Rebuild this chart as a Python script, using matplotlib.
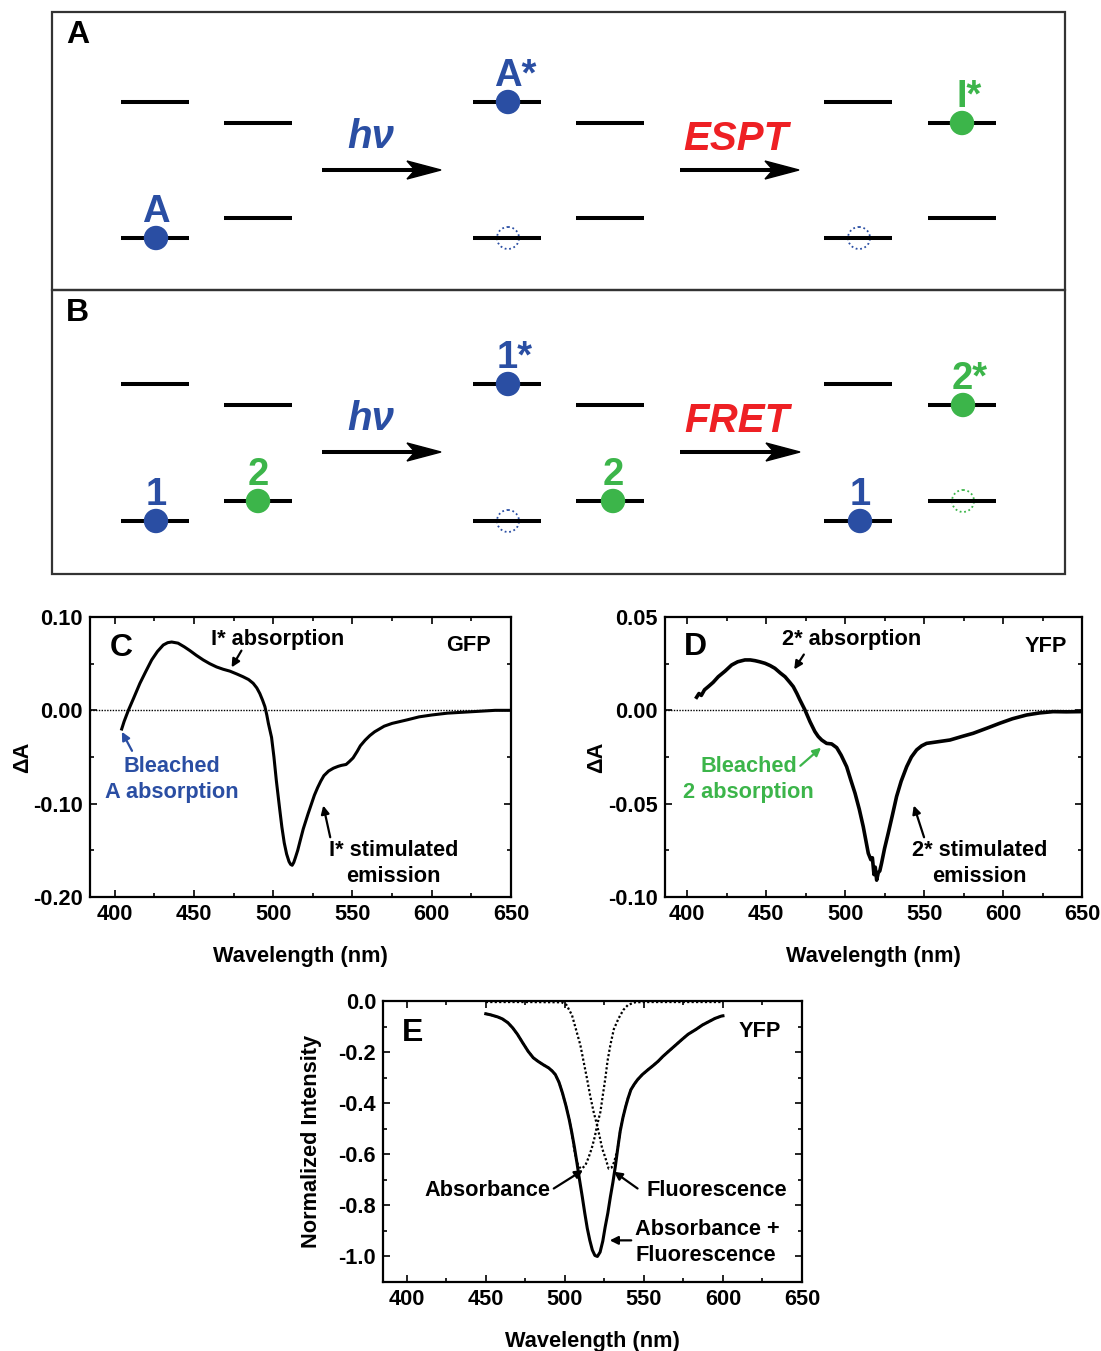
import matplotlib
matplotlib.use("Agg")
import matplotlib.pyplot as plt
from matplotlib.patches import Circle, Polygon, Rectangle
from matplotlib.ticker import MultipleLocator, FormatStrFormatter

plt.rcParams["font.family"] = ["Liberation Sans", "DejaVu Sans"]
plt.rcParams["font.weight"] = "bold"
plt.rcParams["axes.unicode_minus"] = False

BLUE = "#2a4ea3"
GREEN = "#3cb54a"
RED = "#ee2024"
FS = 15.7

# ---- panel C: GFP transient absorption ----
gfp_nm = [404.5, 406, 408.7, 412, 416, 419.5, 423.4, 427, 430.7, 433.5, 436, 440, 444,
          447.5, 451.5, 455.9, 460, 464.3, 468.5, 472.7, 477, 481, 484.5, 487.4, 489.7,
          491.6, 493.3, 494.8, 496, 497, 499, 500.5, 502, 504, 505.5, 507, 508.5, 510,
          511, 512, 513, 514, 515.5, 517, 519, 520.5, 522, 524, 526, 528, 530, 532, 535,
          538, 541, 543, 546, 548, 550.4, 553, 555, 558, 561, 564, 567, 570, 575, 580,
          585, 592, 600, 610, 620, 630, 640, 650]
gfp_dA = [-0.020, -0.012, 0.000, 0.013, 0.029, 0.041, 0.054, 0.063, 0.070, 0.0725, 0.0732,
          0.072, 0.068, 0.064, 0.059, 0.054, 0.050, 0.0465, 0.044, 0.042, 0.039, 0.036,
          0.033, 0.029, 0.024, 0.018, 0.011, 0.004, -0.005, -0.014, -0.029, -0.050, -0.075,
          -0.104, -0.125, -0.142, -0.154, -0.162, -0.165, -0.166, -0.163, -0.158, -0.150,
          -0.140, -0.127, -0.119, -0.111, -0.101, -0.091, -0.083, -0.076, -0.070, -0.065,
          -0.062, -0.060, -0.059, -0.058, -0.055, -0.051, -0.044, -0.038, -0.032, -0.027,
          -0.023, -0.020, -0.017, -0.014, -0.012, -0.010, -0.007, -0.005, -0.003, -0.002,
          -0.001, 0.000, 0.000]

# ---- panel D: YFP transient absorption ----
yfp_nm = [406, 407.5, 409, 411, 413.4, 416.5, 419.7, 424, 428.2, 432, 436.6, 440, 443, 446,
          449.3, 452.5, 455.6, 459, 462, 465, 467.2, 469.5, 471.4, 474.6, 477.8, 480.9,
          483, 485.2, 488.3, 491.5, 494.7, 497.5, 501, 503.5, 506.3, 509, 511.5, 513,
          514.7, 516.3, 517.3, 518.3, 519.1, 520, 521, 522, 523.1, 525, 527.3, 530, 532.6,
          535.5, 539, 542, 545.3, 548.5, 551.6, 559, 566.4, 574, 581.1, 590, 598, 606,
          614.9, 623, 631.7, 640, 648.6, 650]
yfp_dA = [0.007, 0.009, 0.008, 0.011, 0.0127, 0.015, 0.018, 0.021, 0.0243, 0.026, 0.027,
          0.027, 0.0266, 0.026, 0.0252, 0.024, 0.0225, 0.020, 0.018, 0.015, 0.0127, 0.009,
          0.0056, 0.0002, -0.0061, -0.0114, -0.014, -0.0159, -0.0177, -0.0180, -0.0200,
          -0.024, -0.0302, -0.037, -0.0444, -0.053, -0.0623, -0.069, -0.0766, -0.080,
          -0.079, -0.088, -0.084, -0.091, -0.087, -0.086, -0.0819, -0.074, -0.0659, -0.056,
          -0.0462, -0.038, -0.0302, -0.025, -0.0212, -0.019, -0.0177, -0.0168, -0.0159,
          -0.014, -0.0123, -0.0095, -0.0069, -0.0045, -0.0025, -0.0014, -0.0007, -0.0008,
          -0.0007, -0.0006]

# ---- panel E: YFP normalized absorbance / fluorescence ----
sum_nm = [450, 453, 457.4, 460.5, 464, 467, 470, 473.5, 476.8, 480, 483, 486.5, 489.8, 492,
          494, 496.3, 498.5, 500.7, 502.8, 504.4, 506, 507.7, 509.3, 511, 512.6, 514.2,
          515.8, 517.4, 519, 520.6, 522.3, 524, 525.5, 527.2, 528.8, 530.4, 532, 533.5,
          535, 536.8, 538.5, 540, 541.8, 544, 546, 549, 552.6, 556, 559, 562, 565.6, 570,
          574, 578, 583, 587, 591.6, 595, 599, 600]
sum_val = [-0.050, -0.054, -0.062, -0.070, -0.085, -0.105, -0.130, -0.165, -0.197, -0.222,
           -0.236, -0.250, -0.262, -0.274, -0.288, -0.318, -0.360, -0.410, -0.465, -0.515,
           -0.570, -0.635, -0.700, -0.765, -0.830, -0.890, -0.937, -0.975, -0.996, -1.000,
           -0.983, -0.940, -0.885, -0.830, -0.767, -0.710, -0.645, -0.575, -0.510, -0.455,
           -0.413, -0.380, -0.347, -0.325, -0.308, -0.288, -0.269, -0.252, -0.236, -0.217,
           -0.197, -0.173, -0.151, -0.130, -0.111, -0.094, -0.079, -0.068, -0.059, -0.058]

abs_nm = [450, 453, 457.4, 460.5, 464, 467, 470, 473.5, 476.8, 480, 483, 486.5, 489.8, 492,
          494, 496.3, 498.5, 500.7, 502.8, 504.4, 505.8, 507.3, 509, 510.8, 513, 515, 517,
          519, 520.4, 522.5, 524, 525.6, 527, 528.8, 531, 534, 537, 540, 544.5, 550, 575, 600]
abs_val = [-0.050, -0.054, -0.062, -0.070, -0.085, -0.105, -0.130, -0.165, -0.197, -0.222,
           -0.236, -0.250, -0.262, -0.274, -0.288, -0.318, -0.360, -0.410, -0.465, -0.515,
           -0.575, -0.625, -0.650, -0.656, -0.643, -0.613, -0.577, -0.530, -0.486, -0.434,
           -0.370, -0.303, -0.235, -0.172, -0.110, -0.068, -0.035, -0.015, -0.005, -0.004,
           -0.004, -0.004]

fl_nm = [450, 475, 498, 501, 504.5, 507, 509.8, 511.8, 514, 516, 518.2, 520.4, 522, 523.6,
         525.6, 527.7, 529.6, 531.2, 532.5, 533.5, 535, 536.8, 538.5, 540, 541.8, 544, 546,
         549, 552.6, 556, 559, 562, 565.6, 570, 574, 578, 583, 587, 591.6, 595, 599, 600]
fl_val = [-0.004, -0.004, -0.005, -0.015, -0.055, -0.110, -0.172, -0.235, -0.303, -0.370,
          -0.434, -0.486, -0.530, -0.577, -0.613, -0.656, -0.652, -0.630, -0.600, -0.575,
          -0.510, -0.455, -0.413, -0.380, -0.347, -0.325, -0.308, -0.288, -0.269, -0.252,
          -0.236, -0.217, -0.197, -0.173, -0.151, -0.130, -0.111, -0.094, -0.079, -0.068,
          -0.059, -0.058]

# ---- energy level diagrams (pixel layout) ----
level_x = [155, 258, 507, 610, 858, 962]
levels_A = [(102, 238), (123, 218), (102, 238), (123, 218), (102, 238), (123, 218)]
levels_B = [(384, 521), (405, 501), (384, 521), (405, 501), (384, 521), (405, 501)]

fig = plt.figure(figsize=(11.01, 13.51), dpi=100)

dax = fig.add_axes([0, 0, 1, 1])
dax.set_xlim(0, 1101)
dax.set_ylim(1351, 0)
dax.axis("off")

dax.add_patch(Rectangle((52, 12), 1013, 278, fill=False, lw=1.6, ec="#333333"))
dax.add_patch(Rectangle((52, 290), 1013, 284, fill=False, lw=1.6, ec="#333333"))

for levels in (levels_A, levels_B):
    for cx, (yu, yl) in zip(level_x, levels):
        for yy in (yu, yl):
            dax.plot([cx - 34, cx + 34], [yy, yy], color="k", lw=2.9,
                     solid_capstyle="butt")


def dot(x, y, color, empty=False):
    if empty:
        dax.add_patch(Circle((x, y), 11, fill=False, ec=color, lw=1.3, ls=(0, (1, 1.5))))
    else:
        dax.add_patch(Circle((x, y), 11.5, color=color, zorder=3))


def label(x, y, s, color, star=False):
    dax.text(x + (7 if star else 0), y - 16, s, color=color, fontsize=27.5,
             fontweight="bold", ha="center", va="baseline")


def big_arrow(x0, x1, y):
    dax.plot([x0, x1 - 24], [y, y], color="k", lw=2.9, solid_capstyle="butt")
    dax.add_patch(Polygon([(x1, y), (x1 - 34, y - 9), (x1 - 26, y), (x1 - 34, y + 9)],
                          closed=True, color="k"))


def process(x, y, s, color):
    dax.text(x, y, s, color=color, fontsize=29, fontweight="bold",
             style="italic", ha="center", va="baseline")


# panel A
dax.text(66, 35, "A", fontsize=23, fontweight="bold", va="center", ha="left")
dot(156, 238, BLUE); label(156, 238, "A", BLUE)
dot(508, 102, BLUE); label(508, 102, "A*", BLUE, star=True)
dot(508, 238, BLUE, empty=True)
dot(859, 238, BLUE, empty=True)
dot(962, 123, GREEN); label(962, 123, "I*", GREEN, star=True)
big_arrow(322, 441, 170)
big_arrow(680, 799, 170)
process(371, 148, "h\u03bd", BLUE)
process(736, 150, "ESPT", RED)

# panel B
dax.text(66, 313, "B", fontsize=23, fontweight="bold", va="center", ha="left")
dot(156, 521, BLUE); label(156, 521, "1", BLUE)
dot(258, 501, GREEN); label(258, 501, "2", GREEN)
dot(508, 384, BLUE); label(508, 384, "1*", BLUE, star=True)
dot(508, 521, BLUE, empty=True)
dot(613, 501, GREEN); label(613, 501, "2", GREEN)
dot(860, 521, BLUE); label(860, 521, "1", BLUE)
dot(963, 405, GREEN); label(963, 405, "2*", GREEN, star=True)
dot(963, 501, GREEN, empty=True)
big_arrow(322, 441, 452)
big_arrow(680, 800, 452)
process(371, 430, "h\u03bd", BLUE)
process(737, 432, "FRET", RED)


def style_axes(ax, xlim, ylim, ymaj, ymin, yfmt, ylabel, ypad):
    ax.set_xlim(*xlim)
    ax.set_ylim(*ylim)
    ax.xaxis.set_major_locator(MultipleLocator(50))
    ax.xaxis.set_minor_locator(MultipleLocator(25))
    ax.yaxis.set_major_locator(MultipleLocator(ymaj))
    ax.yaxis.set_minor_locator(MultipleLocator(ymin))
    ax.yaxis.set_major_formatter(FormatStrFormatter(yfmt))
    ax.tick_params(which="both", direction="in", top=True, right=True, width=1.2,
                   labelsize=FS, pad=5)
    ax.tick_params(which="major", length=5)
    ax.tick_params(which="minor", length=3)
    for lab in ax.get_xticklabels() + ax.get_yticklabels():
        lab.set_fontweight("bold")
    for sp in ax.spines.values():
        sp.set_linewidth(1.6)
    ax.set_xlabel("Wavelength (nm)", fontsize=FS, fontweight="bold", labelpad=15)
    ax.set_ylabel(ylabel, fontsize=FS, fontweight="bold", labelpad=ypad)


def note(ax, text, xy, color="k", ha="center"):
    ax.text(xy[0], xy[1], text, color=color, fontsize=FS, fontweight="bold",
            ha=ha, va="center", linespacing=1.3)


def pointer(ax, start, end, color="k"):
    ax.annotate("", xy=end, xytext=start,
                arrowprops=dict(arrowstyle="-|>", color=color, lw=1.6,
                                mutation_scale=12, shrinkA=0, shrinkB=0))


# panel C
axc = fig.add_axes([0.08174, 0.33605, 0.38238, 0.20725])
axc.axhline(0, color="k", lw=1.0, ls=(0, (1, 1)))
axc.plot(gfp_nm, gfp_dA, color="k", lw=2.2)
style_axes(axc, (384.5, 650), (-0.2, 0.1), 0.1, 0.05, "%.2f", "\u0394A", 0)
axc.text(404, 0.067, "C", fontsize=23, fontweight="bold", ha="center", va="center")
note(axc, "GFP", (623, 0.069))
note(axc, "I* absorption", (503, 0.076))
pointer(axc, (480, 0.064), (473.8, 0.046))
note(axc, "Bleached\nA absorption", (436, -0.074), BLUE)
pointer(axc, (411, -0.0434), (404.6, -0.023), BLUE)
note(axc, "I* stimulated\nemission", (576, -0.164))
pointer(axc, (536, -0.136), (531.6, -0.102))

# panel D
axd = fig.add_axes([0.60400, 0.33605, 0.37875, 0.20725])
axd.axhline(0, color="k", lw=1.0, ls=(0, (1, 1)))
axd.plot(yfp_nm, yfp_dA, color="k", lw=2.6)
style_axes(axd, (386, 650), (-0.1, 0.05), 0.05, 0.025, "%.2f", "\u0394A", 1)
axd.text(405.5, 0.034, "D", fontsize=23, fontweight="bold", ha="center", va="center")
note(axd, "YFP", (627, 0.034))
note(axd, "2* absorption", (504, 0.038))
pointer(axd, (473.9, 0.0299), (467.8, 0.0219))
note(axd, "Bleached\n2 absorption", (439, -0.037), GREEN)
pointer(axd, (471.7, -0.0297), (484.8, -0.020), GREEN)
note(axd, "2* stimulated\nemission", (585, -0.082))
pointer(axd, (550, -0.068), (543.5, -0.051))

# panel E
axe = fig.add_axes([0.34787, 0.05107, 0.38056, 0.20799])
axe.plot(abs_nm, abs_val, color="k", lw=1.6, ls=(0, (1, 1)))
axe.plot(fl_nm, fl_val, color="k", lw=1.6, ls=(0, (1, 1)))
axe.plot(sum_nm, sum_val, color="k", lw=2.2)
style_axes(axe, (385, 650), (-1.1, 0.0), 0.2, 0.1, "%.1f", "Normalized Intensity", 12)
axe.text(404, -0.125, "E", fontsize=23, fontweight="bold", ha="center", va="center")
note(axe, "YFP", (623, -0.118))
note(axe, "Absorbance", (451, -0.743))
pointer(axe, (493, -0.734), (511.5, -0.662))
note(axe, "Fluorescence", (596, -0.743))
pointer(axe, (546, -0.734), (531, -0.668))
note(axe, "Absorbance +\nFluorescence", (544.5, -0.944), ha="left")
pointer(axe, (542, -0.937), (528.4, -0.937))

fig.savefig("out.png", dpi=100)
